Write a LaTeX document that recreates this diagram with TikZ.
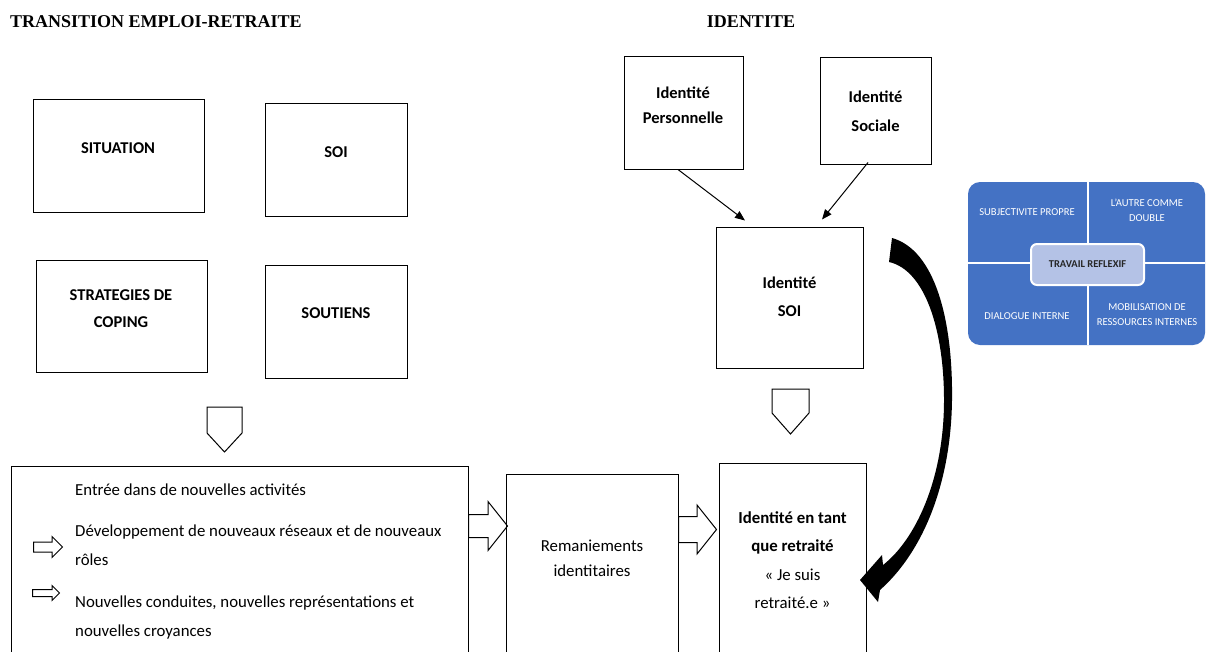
\documentclass[tikz,border=0pt]{standalone}
\usepackage{fontspec}
\setmainfont{Carlito}
\newfontfamily\titlefont{Liberation Serif}
\usepackage{tikz}
\usetikzlibrary{shapes.arrows,arrows.meta}
\usepackage{xcolor}
\definecolor{smartblue}{HTML}{4472C4}
\definecolor{smartlight}{RGB}{180,194,230}
\definecolor{smartdark}{RGB}{38,38,38}

\begin{document}
\begin{tikzpicture}
  [x=1pt, y=-1pt,
   box/.style={draw, line width=1pt, inner sep=0pt},
   head/.style={font=\titlefont\bfseries\fontsize{18}{21}\selectfont},
   lbl/.style={font=\bfseries\fontsize{16.5}{27}\selectfont, align=center},
   txt/.style={font=\fontsize{16.8}{29}\selectfont, align=left, inner sep=0pt},
   conn/.style={-{Triangle[length=10pt,width=8pt]}, line width=1pt},
   hollow/.style={draw, line width=1pt, line join=miter},
   blockarrow/.style={
    single arrow, draw,
    line width=1pt,
    inner sep=0pt,
   },
   quad/.style={text=white, font=\fontsize{10.6}{15}\selectfont, align=center},
   center/.style={draw=white, fill=smartlight, line width=2pt, rounded corners=6pt,
    minimum width=113pt, minimum height=41pt, text=smartdark,
    font=\bfseries\fontsize{10.5}{12}\selectfont},
  ]
  \useasboundingbox (0,0) rectangle (1206,651);
  \clip (0,0) rectangle (1206,651);

  \node[head, anchor=west, inner sep=0pt] (trans) at (10,22) {TRANSITION EMPLOI-RETRAITE};
  \node[head, inner sep=0pt] (ident) at (751,22) {IDENTITE};

  \node[box, minimum width=171pt, minimum height=113pt] (sit) at (118.5,155.5) {};
  \node[box, minimum width=142pt, minimum height=113pt] (soi) at (336,159.5) {};
  \node[box, minimum width=171pt, minimum height=112pt] (strat) at (121.5,316) {};
  \node[box, minimum width=142pt, minimum height=113pt] (sout) at (336,321.5) {};
  \node[box, minimum width=119pt, minimum height=113pt] (pers) at (683.5,112.5) {};
  \node[box, minimum width=111pt, minimum height=107pt] (soc) at (875.5,110.5) {};
  \node[box, minimum width=147pt, minimum height=141pt] (idsoi) at (789.5,297.5) {};
  \node[box, minimum width=457pt, minimum height=204pt] (big) at (239.5,568) {};
  \node[box, minimum width=172pt, minimum height=196pt] (rem) at (592,572) {};
  \node[box, minimum width=147pt, minimum height=207pt] (ret) at (792.5,566.5) {};

  \node[lbl] (sit-l) at (118,148) {SITUATION};
  \node[lbl] (soi-l) at (336,152) {SOI};
  \node[lbl] (strat-l) at (121,308.5) {STRATEGIES DE\\COPING};
  \node[lbl] (sout-l) at (336,313) {SOUTIENS};
  \node[lbl] (pers-l) at (683,105) {Identité\\[-2pt]Personnelle};
  \node[lbl] (soc-l) at (875.5,111) {Identité\\[2pt]Sociale};
  \node[lbl] (idsoi-l) at (789.5,296.5) {Identité\\[1pt]SOI};

  \node[txt, anchor=west] (entree) at (75,490) {Entrée dans de nouvelles activités};
  \node[txt, anchor=west] (dev) at (75,545) {Développement de nouveaux réseaux et de nouveaux\\rôles};
  \node[txt, anchor=west] (nouv) at (75,618) {Nouvelles conduites, nouvelles représentations et\\nouvelles croyances};
  \node[txt, align=center] (rem-l) at (592,558) {Remaniements\\[-4pt]identitaires};
  \node[txt, align=center] (ret-l) at (792.5,560)
    {\textbf{Identité en tant}\\[-0.7pt]\textbf{que retraité}\\[-0.7pt]« Je suis\\[-0.7pt]retraité.e »};

  \node[blockarrow, inner ysep=4.5pt, single arrow head extend=5.5pt, minimum height=29pt, anchor=tail] (s1) at (33,547) {};
  \node[blockarrow, inner ysep=3pt, single arrow head extend=4pt, minimum height=27pt, anchor=tail] (s2) at (32,593) {};
  \node[blockarrow, inner ysep=11pt, single arrow head extend=13pt, minimum height=39pt,
    single arrow tip angle=103, anchor=tail] (a1) at (468,526) {};
  \node[blockarrow, inner ysep=12.5pt, single arrow head extend=11.5pt, minimum height=38pt,
    single arrow tip angle=103, anchor=tail] (a2) at (678,529.5) {};

  \draw[hollow] (207,407) -- (242,407) -- (242,433) -- (224.5,452) -- (207,433) -- cycle;
  \draw[hollow] (772,389) -- (809,389) -- (809,413) -- (790.5,434) -- (772,413) -- cycle;

  \draw[conn] ([xshift=-5.5pt]pers.south) -- ([xshift=-44.5pt,yshift=6pt]idsoi.north);
  \draw[conn] ([xshift=-7.5pt,yshift=2pt]soc.south) -- ([xshift=32.5pt,yshift=7pt]idsoi.north);

  \fill (892,238) .. controls (935,250) and (953,320) .. (952,400)
    .. controls (951,480) and (925,550) .. (880,590)
    -- (878,602) -- (860,580) -- (882,555) -- (883,565)
    .. controls (915,540) and (944,480) .. (944,400)
    .. controls (944,330) and (925,270) .. (889,262) -- cycle;

  \fill[smartblue, rounded corners=12pt] (968,182) rectangle (1205,345);
  \draw[white, line width=2pt] (1088,182) -- (1088,345);
  \draw[white, line width=2pt] (968,263) -- (1205,263);
  \node[quad] (subj) at (1027,212) {SUBJECTIVITE PROPRE};
  \node[quad] (autre) at (1147,210.5) {L'AUTRE COMME\\DOUBLE};
  \node[quad] (dial) at (1027,316) {DIALOGUE INTERNE};
  \node[quad] (mobil) at (1147,314.5) {MOBILISATION DE\\RESSOURCES INTERNES};
  \node[center] (trav) at (1087.5,264.5) {TRAVAIL REFLEXIF};
\end{tikzpicture}
\end{document}
